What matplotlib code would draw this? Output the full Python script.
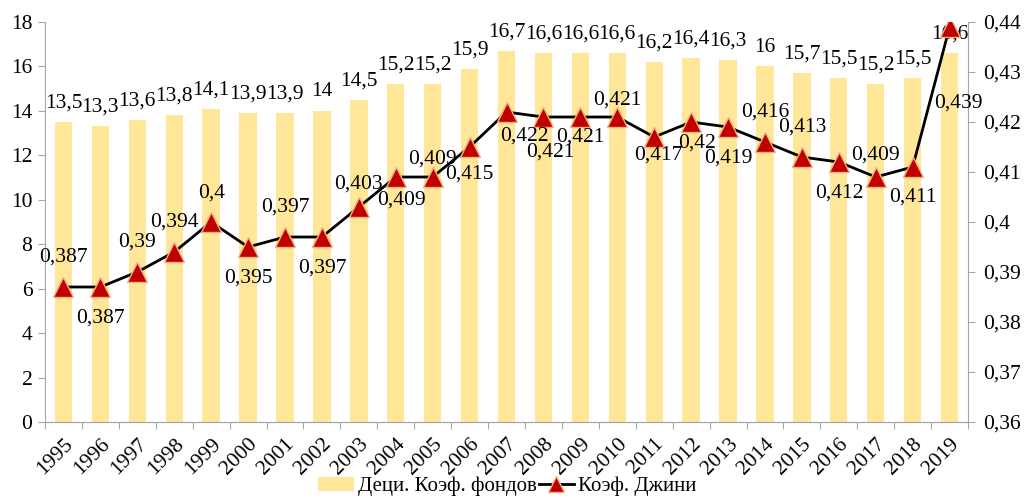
import matplotlib
matplotlib.use("Agg")
import matplotlib.pyplot as plt
import numpy as np
from matplotlib.ticker import FuncFormatter

plt.rcParams['font.family'] = ['Liberation Serif', 'DejaVu Serif']

years = [str(y) for y in range(1995, 2020)]
deci = [13.5, 13.3, 13.6, 13.8, 14.1, 13.9, 13.9, 14, 14.5, 15.2, 15.2, 15.9, 16.7,
        16.6, 16.6, 16.6, 16.2, 16.4, 16.3, 16, 15.7, 15.5, 15.2, 15.5, 16.6]
gini = [0.387, 0.387, 0.39, 0.394, 0.4, 0.395, 0.397, 0.397, 0.403, 0.409, 0.409, 0.415,
        0.422, 0.421, 0.421, 0.421, 0.417, 0.42, 0.419, 0.416, 0.413, 0.412, 0.409, 0.411, 0.439]
# label offsets for Gini labels (pixels; negative = above marker)
gini_dy = [-30, 31, -30, -30, -29, 31, -30, 31, -23, 23, -18, 27, 24, 35, 20, -17,
           18, 21, 31, -30, -30, 31, -22, 30, 76]
gini_dx = [0, 0, 0, 0, 0, 0, 0, 0, 0, 6, 0, 0, 18, 7, 0, 0, 4, 6, 0, 0, 0, 0, 0, 0, 9]

FS = 15.5

def fmt(v):
    s = ('%g' % v)
    return s.replace('.', ',')

fig = plt.figure(figsize=(10.27, 5.04), dpi=100)
ax = fig.add_axes([0.0438, 0.1627, 0.8988, 0.7936])
ax2 = ax.twinx()

x = np.arange(len(years))
bars = ax.bar(x, deci, width=0.47, color='#FFE699', zorder=1, label='Деци. Коэф. фондов')
ax.set_ylim(0, 18)
ax.set_yticks(np.arange(0, 19, 2))
ax.set_xlim(-0.5, len(years) - 0.5)
ax.set_xticks(np.arange(-0.5, len(years), 1), minor=False)
ax.set_xticklabels([])
ax.set_xticks(x, minor=True)
ax.set_xticklabels(years, minor=True, rotation=45, ha='right', va='top', rotation_mode='anchor', fontsize=FS)
ax.tick_params(axis='x', which='minor', length=0, pad=9)
ax.tick_params(axis='x', which='major', length=5, color='#a6a6a6', direction='out')
ax.tick_params(axis='y', labelsize=FS, length=5, color='#a6a6a6', pad=4)

for xi, v in zip(x, deci):
    ax.annotate(fmt(v), (xi, v), xytext=(0, 19 * 0.72), textcoords='offset points',
                ha='center', va='center', fontsize=FS)

line, = ax2.plot(x, gini, color='black', lw=2, marker='^', markersize=14,
                 markerfacecolor='#C00000', markeredgecolor='#F4B183', markeredgewidth=1,
                 zorder=3, label='Коэф. Джини')
ax2.set_ylim(0.36, 0.44)
ax2.set_yticks(np.arange(0.36, 0.4401, 0.01))
ax2.yaxis.set_major_formatter(FuncFormatter(lambda v, p: fmt(round(v, 2))))
ax2.tick_params(axis='y', labelsize=FS, length=5, color='#a6a6a6', pad=6)

for xi, v, dy, dx in zip(x, gini, gini_dy, gini_dx):
    ax2.annotate(fmt(v), (xi, v), xytext=(dx * 0.72, -dy * 0.72), textcoords='offset points',
                 ha='center', va='center', fontsize=FS, zorder=4)

for a in (ax, ax2):
    a.spines['top'].set_visible(False)
    for s in ('left', 'right', 'bottom'):
        a.spines[s].set_color('#a6a6a6')
ax.spines['right'].set_visible(False)
ax2.spines['left'].set_visible(False)

leg_handle_line = plt.Line2D([], [], color='black', lw=2, marker='^', markersize=11,
                             markerfacecolor='#C00000', markeredgecolor='#F4B183', markeredgewidth=1)
fig.legend([bars, leg_handle_line], ['Деци. Коэф. фондов', 'Коэф. Джини'], loc='lower center',
           bbox_to_anchor=(0.494, -0.022), ncol=2, frameon=False, fontsize=15,
           handlelength=1.7, columnspacing=0.1, handletextpad=0.2)

fig.savefig('out.png', dpi=100)
